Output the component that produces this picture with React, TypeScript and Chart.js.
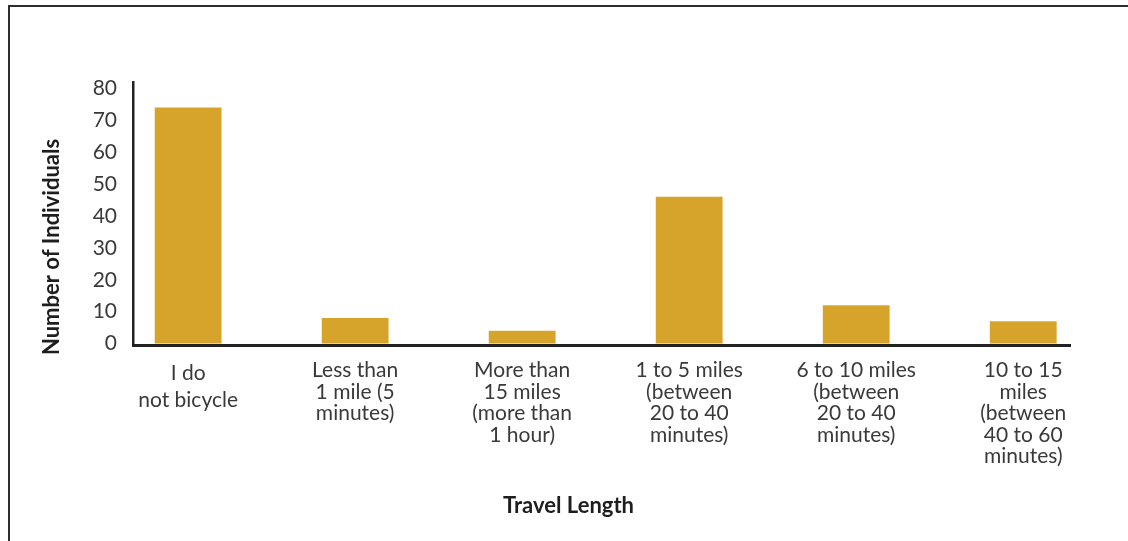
import React, { useEffect, useRef } from "react";
import { Chart, registerables } from "chart.js";

Chart.register(...registerables);

// Survey: how far respondents travel by bicycle
const CATEGORY_LINES: string[][] = [
  ["I do", "not bicycle"],
  ["Less than", "1 mile (5", "minutes)"],
  ["More than", "15 miles", "(more than", "1 hour)"],
  ["1 to 5 miles", "(between", "20 to 40", "minutes)"],
  ["6 to 10 miles", "(between", "20 to 40", "minutes)"],
  ["10 to 15", "miles", "(between", "40 to 60", "minutes)"],
];
const INDIVIDUALS: number[] = [74, 8, 4, 46, 12, 7];
const Y_TICKS: number[] = [0, 10, 20, 30, 40, 50, 60, 70, 80];
const X_TITLE = "Travel Length";
const Y_TITLE = "Number of Individuals";

const BAR_COLOR = "#D6A42A";
const AXIS_COLOR = "#222222";
const TICK_COLOR = "#3a3a3a";
const TITLE_COLOR = "#1e1e1e";
const FONT_FAMILY = "Lato, 'Open Sans', sans-serif";

// Bold axis captions, placed relative to the plot area
const axisCaptions = {
  id: "axisCaptions",
  afterDraw(chart: Chart) {
    const { ctx, chartArea } = chart;
    ctx.save();
    ctx.fillStyle = TITLE_COLOR;
    ctx.font = `bold 22px ${FONT_FAMILY}`;
    ctx.textAlign = "center";
    ctx.textBaseline = "middle";
    const midX = (chartArea.left + chartArea.right) / 2 - 33;
    ctx.fillText(X_TITLE, midX, chartArea.bottom + 160);
    ctx.translate(chartArea.left - 81, chartArea.top + 165);
    ctx.rotate(-Math.PI / 2);
    ctx.fillText(Y_TITLE, 0, 0);
    ctx.restore();
  },
};

export default function App() {
  const canvasRef = useRef<HTMLCanvasElement | null>(null);

  useEffect(() => {
    if (!canvasRef.current) return;
    const chart = new Chart(canvasRef.current, {
      type: "bar",
      data: {
        datasets: [
          {
            data: INDIVIDUALS.map((v, i) => ({ x: i, y: v })),
            backgroundColor: BAR_COLOR,
            borderWidth: 0,
            categoryPercentage: 1,
            barPercentage: 0.4,
          },
        ],
      },
      options: {
        animation: false,
        responsive: false,
        devicePixelRatio: 1,
        layout: { padding: { top: 82, right: 58, bottom: 0, left: 0 } },
        plugins: {
          legend: { display: false },
          tooltip: { enabled: false },
          title: { display: false },
        },
        scales: {
          x: {
            type: "linear",
            offset: false,
            min: -0.33,
            max: 5.28,
            grid: { display: false, drawTicks: false, offset: false },
            border: { display: true, color: AXIS_COLOR, width: 3, z: 1 },
            afterBuildTicks: (scale: any) => {
              scale.ticks = CATEGORY_LINES.map((_, i) => ({ value: i }));
            },
            afterFit: (scale: any) => {
              scale.height = 195.5;
            },
            ticks: {
              autoSkip: false,
              maxRotation: 0,
              minRotation: 0,
              padding: 14,
              color: TICK_COLOR,
              font: (ctx: any) => ({
                family: FONT_FAMILY,
                size: 21,
                lineHeight: ctx.index === 0 ? 1.3 : 1.025,
              }),
              callback: (value: any) => CATEGORY_LINES[value as number] ?? "",
            },
          },
          y: {
            type: "linear",
            min: -0.6,
            max: 82,
            grid: { display: false, drawTicks: false },
            border: { display: true, color: AXIS_COLOR, width: 2.5, z: 1 },
            afterBuildTicks: (scale: any) => {
              scale.ticks = Y_TICKS.map((v) => ({ value: v }));
            },
            afterFit: (scale: any) => {
              scale.width = 133;
            },
            ticks: {
              padding: 16,
              color: TICK_COLOR,
              font: { family: FONT_FAMILY, size: 21 },
            },
          },
        },
      },
      plugins: [axisCaptions],
    });
    return () => chart.destroy();
  }, []);

  return (
    <div style={{ position: "fixed", inset: 0, background: "#ffffff", overflow: "hidden" }}>
      <div
        style={{
          position: "absolute",
          left: 8,
          top: 5,
          width: 1300,
          height: 700,
          borderLeft: "2.5px solid #2e2e2e",
          borderTop: "2.5px solid #2e2e2e",
        }}
      />
      <canvas
        ref={canvasRef}
        width={1128}
        height={541}
        style={{ position: "absolute", left: 0, top: 0, width: 1128, height: 541 }}
      />
    </div>
  );
}
